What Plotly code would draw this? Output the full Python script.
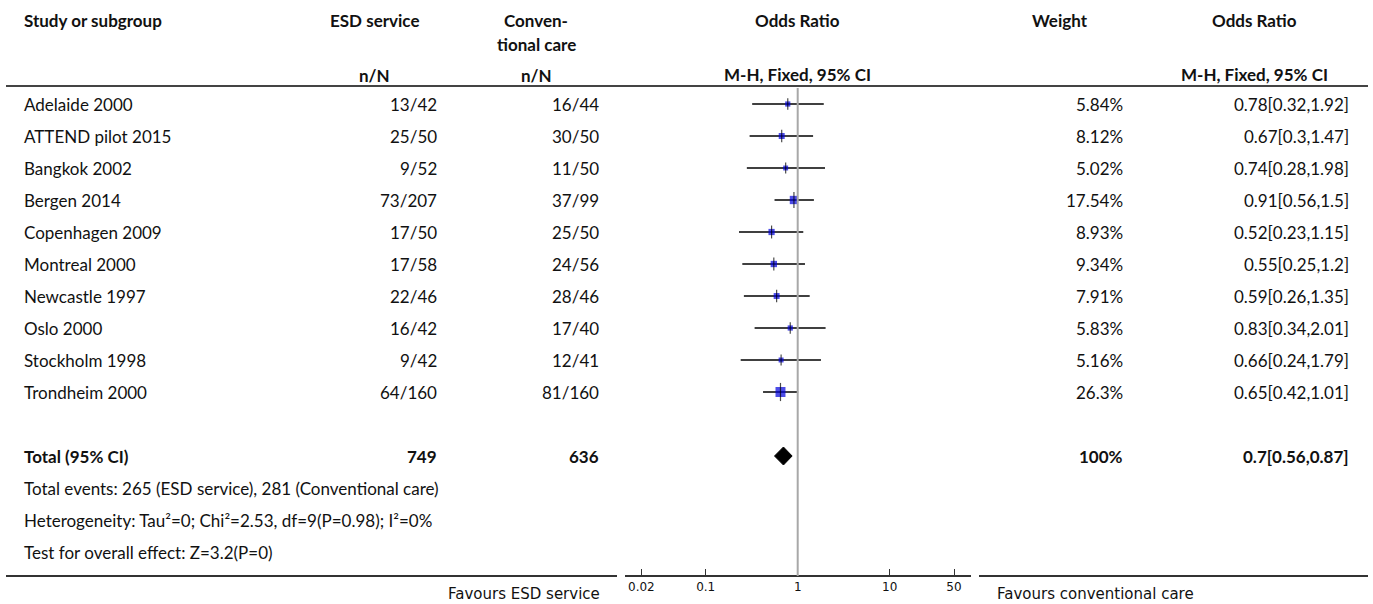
import plotly.graph_objects as go
import math

# ---------------- data ----------------
studies = ["Adelaide 2000", "ATTEND pilot 2015", "Bangkok 2002", "Bergen 2014",
           "Copenhagen 2009", "Montreal 2000", "Newcastle 1997", "Oslo 2000",
           "Stockholm 1998", "Trondheim 2000"]
esd_nN = ["13/42", "25/50", "9/52", "73/207", "17/50", "17/58", "22/46", "16/42", "9/42", "64/160"]
conv_nN = ["16/44", "30/50", "11/50", "37/99", "25/50", "24/56", "28/46", "17/40", "12/41", "81/160"]
weights = [5.84, 8.12, 5.02, 17.54, 8.93, 9.34, 7.91, 5.83, 5.16, 26.3]
or_est = [0.78, 0.67, 0.74, 0.91, 0.52, 0.55, 0.59, 0.83, 0.66, 0.65]
or_lo = [0.32, 0.3, 0.28, 0.56, 0.23, 0.25, 0.26, 0.34, 0.24, 0.42]
or_hi = [1.92, 1.47, 1.98, 1.5, 1.15, 1.2, 1.35, 2.01, 1.79, 1.01]

total_label = "Total (95% CI)"
total_esd_N = "749"
total_conv_N = "636"
total_weight = "100%"
total_est, total_lo, total_hi = 0.7, 0.56, 0.87

footer_lines = [
    "Total events: 265 (ESD service), 281 (Conventional care)",
    "Heterogeneity: Tau²=0; Chi²=2.53, df=9(P=0.98); I²=0%",
    "Test for overall effect: Z=3.2(P=0)",
]
tick_vals = [0.02, 0.1, 1, 10, 50]
tick_text = ["0.02", "0.1", "1", "10", "50"]

# ---------------- layout constants ----------------
W, H = 1373, 604
ROW0_PX, ROW_PX = 104, 32
def row_of(px):
    return (px - ROW0_PX) / ROW_PX
def px(x):
    return x / W

PLOT_L, PLOT_R = 625, 971
CENTER_PX, DECADE_PX = 797.7, 92.0
xr = [(PLOT_L - CENTER_PX) / DECADE_PX, (PLOT_R - CENTER_PX) / DECADE_PX]

BODY = dict(family="Lato", size=17, color="#111")
BOLD = dict(family="Lato", size=17, color="#111", weight="bold")

fig = go.Figure()

# CI lines
n = len(studies)
rows = list(range(n))
ci_x, ci_y = [], []
for i in rows:
    ci_x += [or_lo[i], or_hi[i], None]
    ci_y += [i, i, None]
fig.add_trace(go.Scatter(x=ci_x, y=ci_y, mode="lines",
                         line=dict(color="black", width=1.5), hoverinfo="skip"))

# squares
sizes = [1 + 1.75 * math.sqrt(w) for w in weights]
fig.add_trace(go.Scatter(x=or_est, y=rows, mode="markers",
                         marker=dict(symbol="square", size=sizes, color="#0000dd",
                                     line=dict(width=0))))
# vertical tick through point
fig.add_trace(go.Scatter(x=or_est, y=rows, mode="markers",
                         marker=dict(symbol="line-ns", size=[s + 3 for s in sizes],
                                     line=dict(color="black", width=1.2))))

# total diamond
total_row = n + 1
dh = 9 / ROW_PX
fig.add_trace(go.Scatter(x=[total_lo, total_est, total_hi, total_est, total_lo],
                         y=[total_row, total_row - dh, total_row, total_row + dh, total_row],
                         mode="lines", fill="toself", fillcolor="black",
                         line=dict(color="black", width=1)))

# ---------------- shapes ----------------
shapes = []
shapes.append(dict(type="line", xref="x", yref="y", x0=1, x1=1,
                   y0=row_of(88), y1=row_of(576), line=dict(color="#a8a8a8", width=2)))
shapes.append(dict(type="line", xref="paper", yref="y", x0=px(6), x1=px(1368),
                   y0=row_of(86), y1=row_of(86), line=dict(color="#444", width=2)))
for a, b in [(6, 617), (979, 1368)]:
    shapes.append(dict(type="line", xref="paper", yref="y", x0=px(a), x1=px(b),
                       y0=row_of(576), y1=row_of(576), line=dict(color="#333", width=2)))

# ---------------- annotations ----------------
ann = []
def text(s, x, ypx=None, row=None, anchor="left", font=BODY):
    y = row if row is not None else row_of(ypx)
    ann.append(dict(text=s, x=px(x), y=y, xref="paper", yref="y",
                    xanchor=anchor, yanchor="middle", showarrow=False, font=font))

text("Study or subgroup", 22, 20, font=BOLD)
text("ESD service", 374, 20, anchor="center", font=BOLD)
text("Conven-", 536, 20, anchor="center", font=BOLD)
text("tional care", 536, 44, anchor="center", font=BOLD)
text("Odds Ratio", CENTER_PX, 20, anchor="center", font=BOLD)
text("Weight", 1060, 20, anchor="center", font=BOLD)
text("Odds Ratio", 1254, 20, anchor="center", font=BOLD)
text("n/N", 374, 75, anchor="center", font=BOLD)
text("n/N", 536, 75, anchor="center", font=BOLD)
text("M-H, Fixed, 95% CI", CENTER_PX, 74, anchor="center", font=BOLD)
text("M-H, Fixed, 95% CI", 1254, 74, anchor="center", font=BOLD)

for i in rows:
    text(studies[i], 22, row=i)
    text(esd_nN[i], 439, row=i, anchor="right")
    text(conv_nN[i], 601, row=i, anchor="right")
    text(f"{weights[i]}%", 1125, row=i, anchor="right")
    text(f"{or_est[i]}[{or_lo[i]},{or_hi[i]}]", 1351, row=i, anchor="right")

text(total_label, 22, row=total_row, font=BOLD)
text(total_esd_N, 439, row=total_row, anchor="right", font=BOLD)
text(total_conv_N, 601, row=total_row, anchor="right", font=BOLD)
text(total_weight, 1125, row=total_row, anchor="right", font=BOLD)
text(f"{total_est}[{total_lo},{total_hi}]", 1351, row=total_row, anchor="right", font=BOLD)

for k, line in enumerate(footer_lines):
    text(line, 22, row=total_row + 1 + k)

FAV = dict(family="DejaVu Sans", size=15, color="#111")
text("Favours ESD service", 602, 594, anchor="right", font=FAV)
text("Favours conventional care", 995, 594, anchor="left", font=FAV)

fig.update_layout(
    width=W, height=H, margin=dict(l=0, r=0, t=0, b=0),
    paper_bgcolor="white", plot_bgcolor="white", showlegend=False,
    shapes=shapes, annotations=ann,
    xaxis=dict(type="log", range=xr, domain=[px(PLOT_L), px(PLOT_R)],
               anchor="free", position=(H - 576) / H,
               showline=True, linecolor="#333", linewidth=2,
               ticks="inside", ticklen=6, tickcolor="#333", tickwidth=1,
               tickvals=tick_vals, ticktext=tick_text,
               tickfont=dict(family="DejaVu Sans", size=12, color="#111"),
               showgrid=False, zeroline=False, fixedrange=True),
    yaxis=dict(range=[row_of(H), row_of(0)], domain=[0, 1], visible=False,
               showgrid=False, zeroline=False, fixedrange=True),
)

fig.write_html("out.html", config={"displayModeBar": False})
